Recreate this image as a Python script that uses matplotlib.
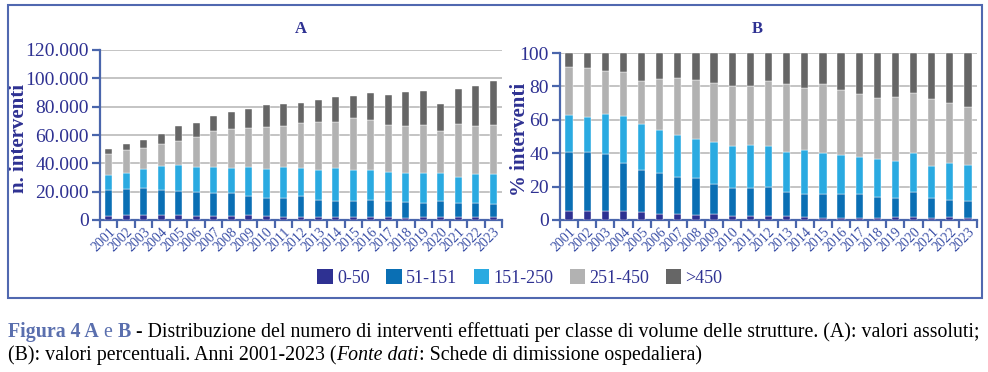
import numpy as np
import matplotlib.pyplot as plt
from matplotlib.patches import Rectangle, Patch
from matplotlib.ticker import FuncFormatter

# Data
years = [str(y) for y in range(2001, 2024)]
classes = ['0-50', '51-151', '151-250', '251-450', '>450']
colors = ['#2e3192', '#0a6fb4', '#2aaae1', '#b2b2b2', '#666666']

# A: absolute number of interventions per volume class
a_0_50 = [3060, 3290, 3530, 3530, 3530, 3060, 3060, 2820, 3530, 2820, 2350, 2350,
          2350, 1880, 1880, 1880, 1880, 1650, 1880, 1880, 1880, 2350, 1880]
a_51_151 = [18120, 18830, 19290, 17650, 16940, 16940, 16230, 16470, 13410, 12940, 13410, 14590,
            11770, 11770, 11770, 12240, 11770, 11290, 10360, 11770, 10120, 9650, 9650]
a_151_250 = [10590, 11290, 13420, 17170, 18350, 17650, 18360, 17650, 20710, 20240, 21890, 20000,
             21170, 23290, 21640, 21170, 20230, 20240, 20940, 19530, 18590, 20710, 20940]
a_251_450 = [14580, 16000, 14820, 15300, 17180, 21170, 25170, 27300, 27290, 29410, 28700, 31770,
             33890, 32000, 36710, 35060, 33180, 32940, 34110, 29640, 36940, 33640, 34590]
a_450 = [3770, 4240, 5410, 7060, 10590, 9890, 10830, 11760, 13410, 15530, 15530, 13880,
         15760, 17650, 15760, 19530, 21180, 24000, 24000, 19060, 25180, 28240, 31060]

# B: percentage of interventions per volume class
b_0_50 = [5.4, 5.2, 5.4, 5.2, 4.8, 3.8, 3.6, 3.2, 3.8, 2.6, 2.4, 2.4,
          2.4, 1.6, 1.2, 1.4, 1.4, 1.4, 1.6, 1.8, 1.4, 1.8, 1.4]
b_51_151 = [35.6, 35.8, 34.0, 29.1, 24.9, 24.5, 22.1, 21.7, 17.7, 16.3, 16.5, 17.5,
            14.1, 13.7, 14.1, 13.9, 13.9, 12.1, 11.3, 14.7, 11.5, 10.4, 9.8]
b_151_250 = [22.0, 20.6, 23.9, 27.7, 27.9, 25.5, 25.1, 23.5, 25.5, 25.7, 26.3, 24.7,
             24.5, 26.9, 24.7, 23.5, 22.7, 22.8, 22.6, 23.5, 19.6, 22.1, 21.5]
b_251_450 = [28.6, 29.6, 26.1, 26.4, 25.9, 30.9, 34.1, 35.3, 34.9, 35.5, 35.1, 38.5,
             40.3, 37.1, 41.7, 38.9, 37.7, 37.0, 38.0, 36.1, 40.2, 35.8, 35.2]
b_450 = [8.4, 8.8, 10.6, 11.6, 16.5, 15.3, 15.1, 16.3, 18.1, 19.9, 19.7, 16.9,
         18.7, 20.7, 18.3, 22.3, 24.3, 26.7, 26.5, 23.9, 27.3, 29.9, 32.1]

series_a = [a_0_50, a_51_151, a_151_250, a_251_450, a_450]
series_b = [b_0_50, b_51_151, b_151_250, b_251_450, b_450]

W, H = 988, 372
SERIF = 'Liberation Serif'
TXT = '#2e3192'
SPINE = '#4a66ac'

fig = plt.figure(figsize=(W / 100, H / 100), dpi=100)


def px_axes(left, top, right, bottom):
    return fig.add_axes([left / W, 1 - bottom / H, (right - left) / W, (bottom - top) / H])


def draw_panel(ax, series, ymax, step, ylabel, fmt, label_x):
    x = np.arange(len(years))
    bottom = np.zeros(len(years))
    for vals, col in zip(series, colors):
        vals = np.array(vals, dtype=float)
        ax.bar(x, vals, 0.4, bottom=bottom, color=col, edgecolor='white', linewidth=0.3, zorder=3)
        bottom += vals
    ax.set_xlim(-0.5, len(years) - 0.5)
    ax.set_ylim(0, ymax)
    ax.set_yticks(np.arange(0, ymax + 1, step))
    ax.yaxis.set_major_formatter(FuncFormatter(fmt))
    ax.grid(axis='y', color='#c4c4c4', linewidth=1.4, zorder=0)
    ax.set_axisbelow(True)
    for s in ['top', 'right']:
        ax.spines[s].set_visible(False)
    for s in ['left', 'bottom']:
        ax.spines[s].set_color(SPINE)
        ax.spines[s].set_linewidth(1.6)
    ax.set_xticks(x)
    ax.set_xticklabels(years, rotation=45, ha='right', rotation_mode='anchor',
                       fontsize=10, family=SERIF, color='#3a4fa6')
    ax.set_xticks(np.arange(-0.5, len(years)), minor=True)
    ax.tick_params(axis='x', which='major', length=0, pad=4)
    ax.tick_params(axis='x', which='minor', length=6, width=1.6, color=SPINE)
    ax.tick_params(axis='y', length=6, width=1.6, color=SPINE, labelsize=14, labelcolor=TXT, pad=2)
    for lbl in ax.get_yticklabels():
        lbl.set_family(SERIF)
    ax.set_ylabel(ylabel, family=SERIF, fontweight='bold', fontsize=15, color=TXT)
    ax.yaxis.set_label_coords(label_x, 0.48)


ax_a = px_axes(100, 50, 502, 220)
draw_panel(ax_a, series_a, 120000, 20000, 'n. interventi',
           lambda v, p: f'{int(v):,}'.replace(',', '.'), -0.177)

ax_b = px_axes(560, 53, 977, 220)
draw_panel(ax_b, series_b, 100, 20, '% interventi', lambda v, p: f'{int(v)}', -0.072)

# panel titles
fig.text(301 / W, 1 - 29 / H, 'A', family=SERIF, fontweight='bold', fontsize=12, color=TXT,
         ha='center', va='center')
fig.text(757 / W, 1 - 29 / H, 'B', family=SERIF, fontweight='bold', fontsize=12, color=TXT,
         ha='center', va='center')

# legend
handles = [Patch(facecolor=c, edgecolor='none') for c in colors]
leg = fig.legend(handles, classes, loc='center', bbox_to_anchor=(520 / W, 1 - 278 / H), ncol=5,
                 frameon=False, handlelength=0.85, handleheight=0.85, handletextpad=0.25,
                 columnspacing=0.9, borderpad=0, prop={'family': SERIF, 'size': 13})
for t in leg.get_texts():
    t.set_color(TXT)

# frame around the chart
fig.add_artist(Rectangle((8 / W, 1 - 298 / H), (982 - 8) / W, (298 - 5) / H,
                         transform=fig.transFigure, fill=False, edgecolor='#5068b0', linewidth=1.5))

# caption, written piece by piece
renderer = fig.canvas.get_renderer()


def rich_line(x_px, y_px, parts):
    for text, kw in parts:
        t = fig.text(x_px / W, 1 - y_px / H, text, family=SERIF, fontsize=14.3, va='baseline', **kw)
        bb = t.get_window_extent(renderer)
        x_px += bb.width


blue = '#5a6fae'
rich_line(8, 337, [
    ('Figura 4 A', dict(color=blue, fontweight='bold')),
    (' e ', dict(color=blue)),
    ('B', dict(color=blue, fontweight='bold')),
    (' - Distribuzione del numero di interventi effettuati per classe di volume delle strutture. (A): valori assoluti;',
     dict(color='black')),
])
rich_line(8, 360, [
    ('(B): valori percentuali. Anni 2001-2023 (', dict(color='black')),
    ('Fonte dati', dict(color='black', style='italic')),
    (': Schede di dimissione ospedaliera)', dict(color='black')),
])

fig.savefig('out.png', dpi=100)
